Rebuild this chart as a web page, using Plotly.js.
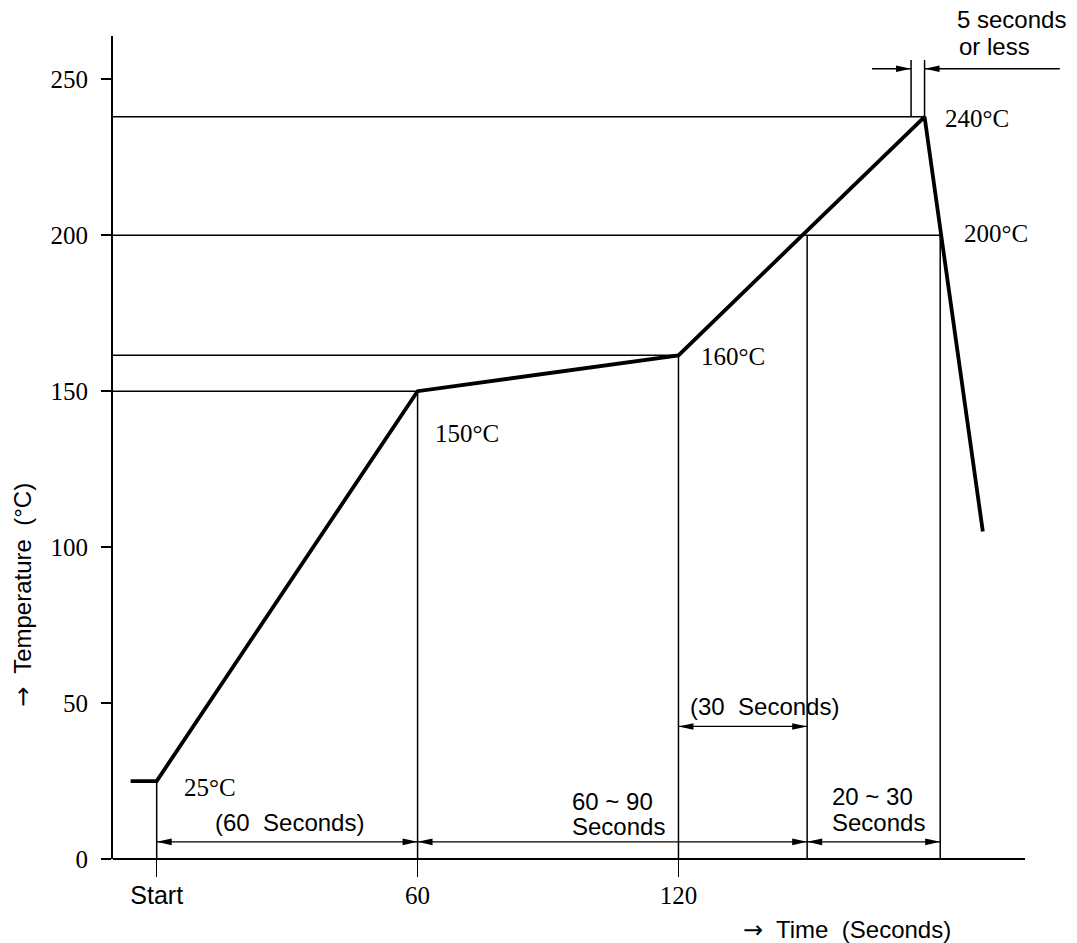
<!DOCTYPE html>
<html>
<head>
<meta charset="utf-8">
<script src="https://cdn.plot.ly/plotly-3.0.1.min.js"></script>
<style>
  html, body { margin: 0; padding: 0; background: #fff; }
  #chart { width: 1077px; height: 943px; }
</style>
</head>
<body>
<div id="chart"></div>
<script>
// ---- data ----
const profileTime = [-6, 0, 60, 120, 176.6, 190];
const profileTemp = [25, 25, 150, 161.5, 238, 105];

// horizontal guide lines: temperature level and time where they end
const hLineTemp = [150, 161.5, 200, 238];
const hLineEnd  = [60, 120, 180.2, 176.6];

// vertical guide lines: time and top temperature
const vLineTime = [0, 60, 120, 149.6, 180.2];
const vLineTop  = [25, 150, 161.5, 200, 200];

// dimension arrows (double headed)
const spanStart = [0, 60, 149.6, 120];
const spanEnd   = [60, 149.6, 180.2, 149.6];
const spanLevel = [5.5, 5.5, 5.5, 42.5];

// "5 seconds or less" marks
const markTime = [173.5, 176.6];
const markBottom = 238;
const markTop = 256.2;
const markArrowLevel = 253.4;
const markArrowOuter = [164.5, 207.7];

const xAxisEnd = 199.7;
const xRange = [-10.05, 210.05];
const yRange = [0, 263.9];

const yTicks = [0, 50, 100, 150, 200, 250];
const xTickVals = [0, 60, 120];
const xTickText = ['<span style="font-family:\'Liberation Sans\', Arial, sans-serif">Start</span>', '60', '120'];

// temperature labels (serif)
const tempLabelText = ['25°C', '150°C', '160°C', '200°C', '240°C'];
const tempLabelTime = [5.8, 63.6, 124.7, 185.2, 180.9];
const tempLabelTemp = [22.9, 136.6, 161.0, 200.7, 237.6];

// duration labels (sans)
const durLabelText = ['(60\u00a0 Seconds)', '60 ~ 90', 'Seconds', '(30\u00a0 Seconds)', '20 ~ 30', 'Seconds'];
const durLabelTime = [30.5, 95.1, 95.1, 122.2, 154.8, 154.8];
const durLabelTemp = [11.6, 18.4, 10.4, 48.8, 20.0, 11.7];
const durLabelAnchor = ['center', 'left', 'left', 'left', 'left', 'left'];

const SERIF = "'Liberation Serif', 'DejaVu Serif', serif";
const SANS = "'Liberation Sans', Arial, sans-serif";
const ARROW = '<span style="font-family:\'DejaVu Sans\'">→</span>';

// ---- build shapes ----
const shapes = [];
const thin = { color: '#000', width: 1.5 };

// x axis line
shapes.push({ type: 'line', xref: 'x', yref: 'paper', x0: xRange[0], x1: xAxisEnd, y0: 0, y1: 0,
              line: { color: '#000', width: 2 } });

hLineTemp.forEach((T, i) => {
  shapes.push({ type: 'line', xref: 'x', yref: 'y', x0: xRange[0], x1: hLineEnd[i], y0: T, y1: T, line: thin, layer: 'below' });
});
vLineTime.forEach((t, i) => {
  shapes.push({ type: 'line', xref: 'x', yref: 'y', x0: t, x1: t, y0: 0, y1: vLineTop[i], line: thin, layer: 'below' });
});

function head(t, T, dir) {
  const p = dir > 0 ? 'M0,0L-15,3.3L-15,-3.3Z' : 'M0,0L15,3.3L15,-3.3Z';
  return { type: 'path', xref: 'x', yref: 'y', xsizemode: 'pixel', ysizemode: 'pixel',
           xanchor: t, yanchor: T, path: p, fillcolor: '#000', line: { width: 0 } };
}

spanStart.forEach((s, i) => {
  const e = spanEnd[i], L = spanLevel[i];
  shapes.push({ type: 'line', xref: 'x', yref: 'y', x0: s, x1: e, y0: L, y1: L, line: { color: '#000', width: 1.3 } });
  shapes.push(head(s, L, -1));
  shapes.push(head(e, L, +1));
});

markTime.forEach(t => {
  shapes.push({ type: 'line', xref: 'x', yref: 'y', x0: t, x1: t, y0: markBottom, y1: markTop, line: thin });
});
shapes.push({ type: 'line', xref: 'x', yref: 'y', x0: markArrowOuter[0], x1: markTime[0], y0: markArrowLevel, y1: markArrowLevel, line: { color: '#000', width: 1.3 } });
shapes.push(head(markTime[0], markArrowLevel, +1));
shapes.push({ type: 'line', xref: 'x', yref: 'y', x0: markTime[1], x1: markArrowOuter[1], y0: markArrowLevel, y1: markArrowLevel, line: { color: '#000', width: 1.3 } });
shapes.push(head(markTime[1], markArrowLevel, -1));

// ---- annotations ----
const annotations = [];
tempLabelText.forEach((txt, i) => {
  annotations.push({ x: tempLabelTime[i], y: tempLabelTemp[i], xref: 'x', yref: 'y', text: txt, showarrow: false,
                     xanchor: 'left', yanchor: 'middle', font: { family: SERIF, size: 25, color: '#000' } });
});
durLabelText.forEach((txt, i) => {
  annotations.push({ x: durLabelTime[i], y: durLabelTemp[i], xref: 'x', yref: 'y', text: txt, showarrow: false,
                     xanchor: durLabelAnchor[i], yanchor: 'middle', font: { family: SANS, size: 24, color: '#000' } });
});
annotations.push({ x: 183.6, y: 1.0195, xref: 'x', yref: 'paper', text: '5 seconds', showarrow: false,
                   xanchor: 'left', yanchor: 'middle', font: { family: SANS, size: 24, color: '#000' } });
annotations.push({ x: 184.1, y: 0.9867, xref: 'x', yref: 'paper', text: 'or less', showarrow: false,
                   xanchor: 'left', yanchor: 'middle', font: { family: SANS, size: 24, color: '#000' } });
// axis titles
annotations.push({ x: 0.8777, y: -0.0859, xref: 'paper', yref: 'paper', text: ARROW + '\u00a0 Time\u00a0 (Seconds)', showarrow: false,
                   xanchor: 'right', yanchor: 'middle', font: { family: SANS, size: 24, color: '#000' } });
annotations.push({ x: -0.094, y: 0.321, xref: 'paper', yref: 'paper', text: ARROW + '\u00a0 Temperature\u00a0 (°C)', showarrow: false,
                   textangle: -90, xanchor: 'center', yanchor: 'middle', font: { family: SANS, size: 24, color: '#000' } });

const traces = [{
  type: 'scatter', mode: 'lines', x: profileTime, y: profileTemp,
  line: { color: '#000', width: 3.8 }, hoverinfo: 'skip'
}];

const layout = {
  width: 1077, height: 943,
  margin: { l: 113, r: 7, t: 36, b: 83.7 },
  paper_bgcolor: '#fff', plot_bgcolor: '#fff',
  showlegend: false,
  xaxis: {
    range: xRange, showline: false, showgrid: false, zeroline: false,
    ticks: 'outside', ticklen: 17, tickwidth: 1.5, tickcolor: '#000',
    tickmode: 'array', tickvals: xTickVals, ticktext: xTickText, ticklabelstandoff: -3,
    tickfont: { family: SERIF, size: 25, color: '#000' }, fixedrange: true
  },
  yaxis: {
    range: yRange, showline: true, linewidth: 2, linecolor: '#000', showgrid: false, zeroline: false,
    ticks: 'outside', ticklen: 10, tickwidth: 2, tickcolor: '#000',
    tickmode: 'array', tickvals: yTicks, ticklabelstandoff: 8,
    tickfont: { family: SERIF, size: 25, color: '#000' }, fixedrange: true
  },
  shapes: shapes,
  annotations: annotations
};

Plotly.newPlot('chart', traces, layout, { displayModeBar: false, staticPlot: true });
</script>
</body>
</html>
